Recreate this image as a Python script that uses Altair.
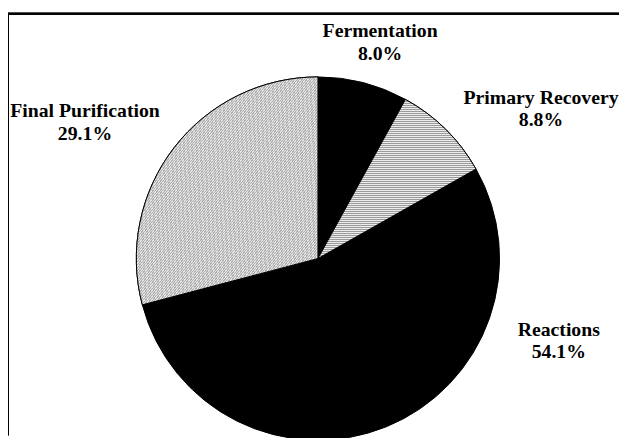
import altair as alt
import pandas as pd

categories = ["Fermentation", "Primary Recovery", "Reactions", "Final Purification"]
shares = [8.0, 8.8, 54.1, 29.1]
pct_labels = ["8.0%", "8.8%", "54.1%", "29.1%"]

# layout (pixel positions of the manually placed labels, plot coordinates)
LABEL_X = [377, 540, 558, 78]
LABEL_Y = [18, 85, 320, 99]
CX, CY, R = 314, 248, 184
W, H = 619, 427

df = pd.DataFrame({
    "category": categories,
    "share": shares,
    "order": list(range(len(categories))),
})
lab = pd.DataFrame({
    "text": [f"{c}\n{p}" for c, p in zip(categories, pct_labels)],
    "lx": LABEL_X,
    "ly": LABEL_Y,
})


def stripes(n, c1, c2, x2, y2):
    stops = []
    for i in range(n):
        a = i / n
        m = (i + 0.5) / n
        b = (i + 1) / n
        stops += [
            {"offset": a, "color": c1},
            {"offset": m, "color": c1},
            {"offset": m, "color": c2},
            {"offset": b, "color": c2},
        ]
    return {"gradient": "linear", "x1": 0, "y1": 0, "x2": x2, "y2": y2, "stops": stops}


base = alt.Chart(df).transform_window(
    cum="sum(share)", sort=[alt.SortField("order")], frame=[None, 0]
).transform_calculate(start="datum.cum - datum.share")

theta = alt.Theta("start:Q", scale=alt.Scale(domain=[0, 100]), stack=None)
theta2 = alt.Theta2("cum:Q")
pos = dict(x=alt.value(CX), y=alt.value(CY))

solid = base.mark_arc(radius=R, stroke="black", strokeWidth=1).encode(
    theta=theta, theta2=theta2,
    color=alt.Color("category:N", scale=alt.Scale(domain=categories,
                    range=["#000000", "#c4c4c4", "#000000", "#c4c4c4"]), legend=None),
    **pos,
)

pr = base.transform_filter(alt.datum.category == "Primary Recovery").mark_arc(
    radius=R, stroke="black", strokeWidth=1,
    fill=stripes(80, "#9a9a9a", "#ececec", 0, 1),
).encode(theta=theta, theta2=theta2, **pos)

fp = base.transform_filter(alt.datum.category == "Final Purification").mark_arc(
    radius=R, stroke="black", strokeWidth=1,
    fill=stripes(150, "#b0b0b0", "#e2e2e2", 1, 1),
).encode(theta=theta, theta2=theta2, **pos)

text = alt.Chart(lab).mark_text(
    font="Liberation Serif", fontSize=20, fontWeight="bold", color="black",
    lineBreak="\n", lineHeight=23, align="center", baseline="middle",
).encode(
    x=alt.X("lx:Q", scale=None), y=alt.Y("ly:Q", scale=None), text="text:N"
)

frame_top = alt.Chart(df).mark_rule(color="black", strokeWidth=2).encode(
    x=alt.value(0), x2=alt.value(W), y=alt.value(0)
)
frame_left = alt.Chart(df).mark_rule(color="black", strokeWidth=2).encode(
    x=alt.value(0), y=alt.value(0), y2=alt.value(H)
)

chart = alt.layer(solid, pr, fp, text, frame_top, frame_left).properties(
    width=W, height=H,
    autosize=alt.AutoSizeParams(type="none"),
    padding={"left": 0, "top": 3, "right": 0, "bottom": 0},
).configure_view(stroke=None)

chart.save("out.html", embed_options={"renderer": "svg", "actions": False})
